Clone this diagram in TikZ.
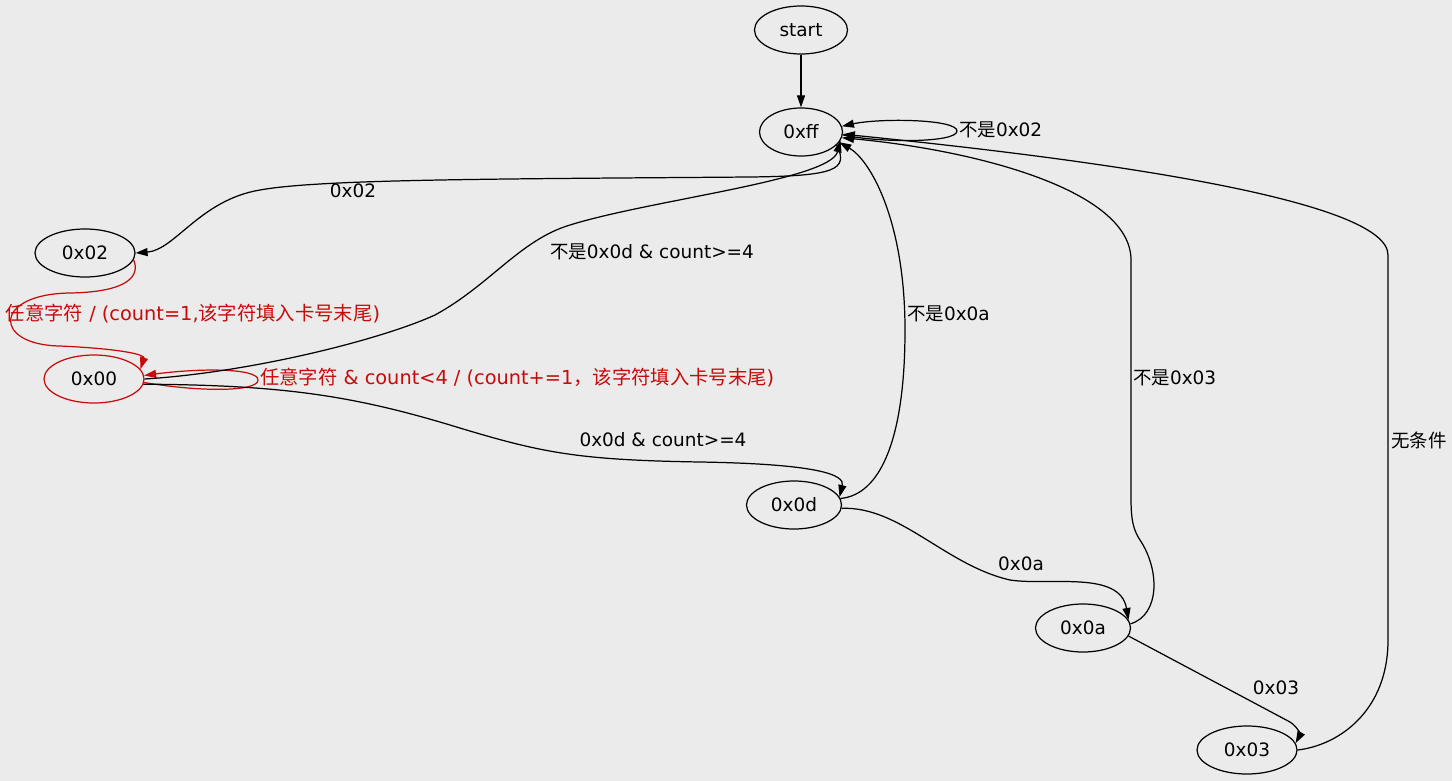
\documentclass[tikz,border=0pt]{standalone}
\usepackage{fontspec}
\setmainfont{DejaVu Sans}
\newfontfamily\cjk{Noto Sans CJK SC}
\usepackage{xcolor}
\usepackage{tikz}
\usetikzlibrary{arrows.meta,shapes.geometric}

\definecolor{bggray}{RGB}{235,235,235}
\definecolor{fsmred}{RGB}{200,10,10}
\newcommand{\zh}[1]{{\cjk #1}}

\begin{document}
\begin{tikzpicture}[
  >={Triangle[length=2.4mm,width=1.6mm]},
  every node/.style={font=\fontsize{10.5}{12}\selectfont},
  state/.style={draw, ellipse, line width=0.7pt, minimum height=0.96cm, minimum width=1.9cm, inner sep=0pt},
  arr/.style={->, line width=0.7pt},
  redarr/.style={arr, draw=fsmred},
  lbl/.style={inner sep=1pt},
  redlbl/.style={lbl, text=fsmred, font=\fontsize{11}{13}\selectfont}
]

% canvas
\fill[bggray] (0,0) rectangle (29.04,-15.62);
\useasboundingbox (0,0) rectangle (29.04,-15.62);

%--------------------------------------------------
% states
%--------------------------------------------------
\node[state, minimum width=1.86cm] (start) at (16.02,-0.60) {start};
\node[state, minimum width=1.66cm] (ff) at (16.02,-2.64) {0xff};
\node[state, minimum width=2.0cm] (o2) at (1.70,-5.06) {0x02};
\node[state, draw=fsmred, minimum width=2.0cm] (o0) at (1.88,-7.58) {0x00};
\node[state] (od) at (15.88,-10.10) {0x0d};
\node[state] (oa) at (21.66,-12.56) {0x0a};
\node[state, minimum width=2.0cm] (o3) at (24.94,-15.00) {0x03};

%--------------------------------------------------
% edges out of start / 0xff
%--------------------------------------------------
\draw[arr] (start) -- (ff);

\draw[arr] (ff.-4) .. controls (17.6,-2.86) and (19.14,-2.86) .. (19.14,-2.62)
  .. controls (19.14,-2.38) and (17.6,-2.36) .. (ff.8);
\node[lbl, anchor=west] (l1) at (19.14,-2.6) {\zh{不是}0x02};

\draw[arr] (ff.-20) .. controls (16.98,-3.4) and (16.7,-3.52) .. (15.0,-3.54)
  .. controls (10.0,-3.58) and (6.4,-3.58) .. (5.2,-3.8)
  .. controls (4.0,-4.0) and (3.5,-5.0) .. (o2.east);
\node[lbl] (l2) at (7.06,-3.82) {0x02};

%--------------------------------------------------
% red edges (0x02, 0x00)
%--------------------------------------------------
\draw[redarr] (o2.-8) .. controls (2.8,-5.5) and (2.6,-5.84) .. (1.4,-5.86)
  .. controls (-0.15,-5.88) and (-0.15,-6.9) .. (1.2,-6.92)
  .. controls (2.5,-6.98) and (2.9,-7.1) .. (o0.12);
\node[redlbl] (l3) at (3.86,-6.28) {\zh{任意字符} / (count=1,\zh{该字符填入卡号末尾})};

\draw[redarr] (o0.-4) .. controls (4.0,-7.84) and (5.16,-7.84) .. (5.16,-7.6)
  .. controls (5.16,-7.36) and (4.0,-7.36) .. (o0.4);
\node[redlbl, anchor=west] (l4) at (5.16,-7.56) {\zh{任意字符} \& count<4 / (count+=1\zh{，该字符填入卡号末尾})};

%--------------------------------------------------
% 0x00 -> 0xff, 0x00 -> 0x0d
%--------------------------------------------------
\draw[arr] (o0.east) .. controls (5.0,-7.45) and (7.6,-6.8) .. (8.7,-6.3)
  .. controls (9.8,-5.7) and (10.4,-4.8) .. (11.4,-4.5)
  .. controls (13.0,-4.0) and (16.6,-3.6) .. (ff.-12);
\node[lbl] (l5) at (13.04,-5.04) {\zh{不是}0x0d \& count>=4};

\draw[arr] (o0.-6) .. controls (5.6,-7.7) and (7.0,-7.9) .. (9.0,-8.5)
  .. controls (10.8,-9.05) and (11.5,-9.2) .. (14.0,-9.24)
  .. controls (16.4,-9.28) and (16.9,-9.5) .. (od.10);
\node[lbl] (l6) at (13.26,-8.8) {0x0d \& count>=4};

%--------------------------------------------------
% back to 0xff
%--------------------------------------------------
\draw[arr] (od.8) .. controls (17.6,-9.9) and (18.1,-8.8) .. (18.1,-6.6)
  .. controls (18.1,-4.4) and (17.4,-3.2) .. (ff.-15);
\node[lbl, anchor=west] (l7) at (18.1,-6.28) {\zh{不是}0x0a};

\draw[arr] (oa.5) .. controls (23.2,-12.3) and (23.2,-11.4) .. (22.8,-10.8)
  .. controls (22.6,-10.5) and (22.62,-10.2) .. (22.62,-9.6) -- (22.62,-5.2)
  .. controls (22.62,-3.8) and (19.5,-3.0) .. (ff.-8);
\node[lbl, anchor=west] (l8) at (22.62,-7.56) {\zh{不是}0x03};

\draw[arr] (o3.east) .. controls (26.8,-14.9) and (27.76,-14.2) .. (27.76,-12.8)
  -- (27.76,-5.1) .. controls (27.76,-4.0) and (22.0,-3.2) .. (ff.-3);
\node[lbl, anchor=west] (l9) at (27.78,-8.8) {\zh{无条件}};

%--------------------------------------------------
% forward chain 0x0d -> 0x0a -> 0x03
%--------------------------------------------------
\draw[arr] (od.-4) .. controls (18.0,-10.12) and (18.9,-11.3) .. (20.2,-11.6)
  .. controls (21.0,-11.72) and (22.4,-11.4) .. (oa.10);
\node[lbl] (l10) at (20.42,-11.28) {0x0a};

\draw[arr] (oa.-10) -- (25.8,-14.44) .. controls (25.96,-14.54) and (26.0,-14.7) .. (o3.8);
\node[lbl] (l11) at (25.52,-13.76) {0x03};

\end{tikzpicture}
\end{document}
